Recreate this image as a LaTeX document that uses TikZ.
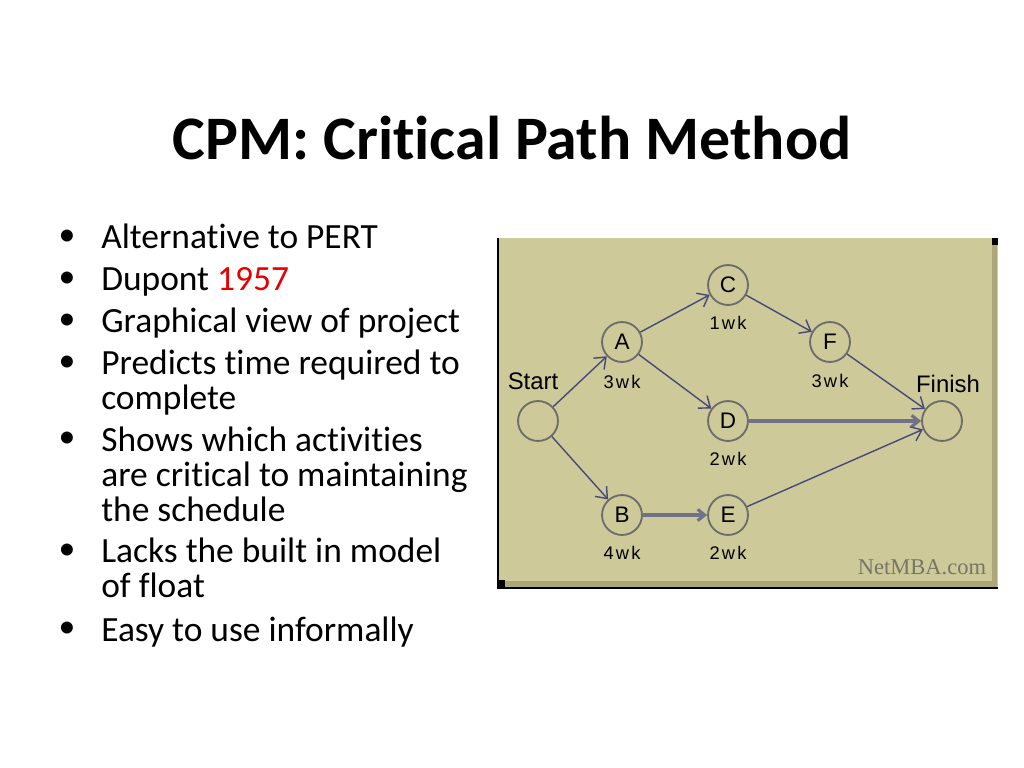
\documentclass[tikz,border=0pt]{standalone}
\usepackage{fontspec}
\setmainfont{Carlito}[Ligatures=NoCommon]
\newfontfamily\netfont{Liberation Sans}
\newfontfamily\wkfont[LetterSpace=12]{Liberation Sans}
\newfontfamily\mbafont{Liberation Serif}
\usetikzlibrary{arrows.meta}
\definecolor{khaki}{RGB}{205,201,153}
\definecolor{bevel}{RGB}{172,168,122}
\definecolor{arrowblue}{RGB}{72,72,122}
\definecolor{critgray}{RGB}{112,112,138}
\definecolor{ringgray}{RGB}{108,108,108}
\definecolor{netgray}{RGB}{118,118,100}
\definecolor{yearred}{RGB}{230,0,0}

\tikzset{
  event/.style={circle,draw=ringgray,line width=1.3pt,minimum size=28.4pt,inner sep=0pt,
    font=\netfont\fontsize{16}{16}\selectfont},
  act/.style={draw=arrowblue,line width=1pt,-{Straight Barb[length=7pt,width=11pt]}},
  crit/.style={draw=critgray,line width=2.2pt,-{Straight Barb[length=5pt,width=8pt]}},
  dur/.style={inner sep=0pt,font=\wkfont\fontsize{13}{13}\selectfont},
  endname/.style={inner sep=0pt,font=\netfont\fontsize{17}{17}\selectfont},
  dot/.style={inner sep=0pt,font=\fontsize{24}{24}\selectfont},
  item/.style={anchor=base west,inner sep=0pt,align=left,font=\fontsize{25.2}{24.6}\selectfont},
}

\begin{document}
\begin{tikzpicture}[x=0.025cm,y=-0.025cm]
\useasboundingbox (0,0) rectangle (1024,768);

% title
\node[anchor=base,inner sep=0pt,font=\bfseries\fontsize{44}{44}\selectfont] (title) at (512,160) {CPM: Critical Path Method};

% bullet list (base of a wrapped item = its last line)
\foreach \y/\n in {238/1,280/2,322/3,364/4,440/5,552/6,630/7}
  \node[dot] (dot\n) at (67,\y) {\textbullet};
\node[item] (item1) at (101,248) {Alternative to PERT};
\node[item] (item2) at (101,290) {Dupont \textcolor{yearred}{1957}};
\node[item] (item3) at (101,332) {Graphical view of project};
\node[item] (item4) at (101,409) {Predicts time required to\\complete};
\node[item] (item5) at (101,521) {Shows which activities\\are critical to maintaining\\the schedule};
\node[item] (item6) at (101,597) {Lacks the built in model\\of float};
\node[item] (item7) at (101,641) {Easy to use informally};

% netmba panel
\fill[khaki] (498,238) rectangle (998,588);
\fill[bevel] (992,244) rectangle (997,587);
\fill[bevel] (505,581) rectangle (997,587);
\fill[black] (992,238) rectangle (998,245);
\fill[black] (498,580) rectangle (505,588);
\draw[line width=1.4pt] (498,238) -- (498,588) -- (998,588);

% events
\node[event] (start) at (538,421) {};
\node[event] (a) at (622,342) {A};
\node[event] (c) at (728,285) {C};
\node[event] (f) at (830,342) {F};
\node[event] (d) at (728,421) {D};
\node[event] (b) at (622,515) {B};
\node[event] (e) at (728,515) {E};
\node[event] (finish) at (942,421) {};

\node[endname] (startname) at (533,381) {Start};
\node[endname] (finishname) at (948,384) {Finish};
\node[dur] (wka) at (622,382) {3wk};
\node[dur] (wkc) at (728,323) {1wk};
\node[dur] (wkf) at (830,381) {3wk};
\node[dur] (wkd) at (728,459) {2wk};
\node[dur] (wkb) at (622,553) {4wk};
\node[dur] (wke) at (728,553) {2wk};

% activities
\draw[act] (start) -- (a);
\draw[act] (a) -- (c);
\draw[act] (c) -- (f);
\draw[act] (f) -- (finish);
\draw[act] (a) -- (d);
\draw[crit] (d) -- (finish);
\draw[act] (start) -- (b);
\draw[crit] (b) -- (e);
\draw[act] (e) -- (finish);

\node[inner sep=0pt,text=netgray,font=\mbafont\fontsize{16}{16}\selectfont] (mba) at (922,567) {NetMBA.com};
\end{tikzpicture}
\end{document}
